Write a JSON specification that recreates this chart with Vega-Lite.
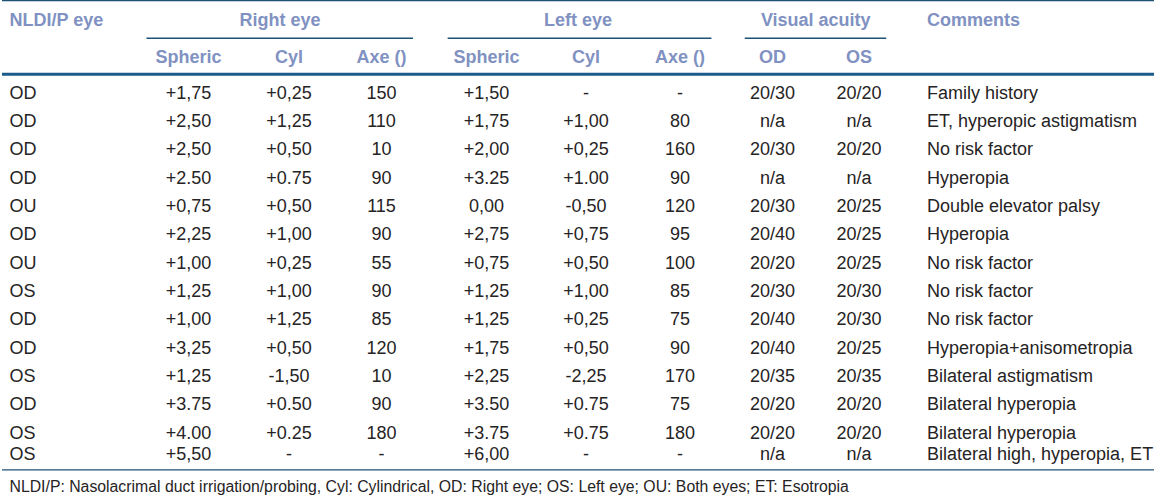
{
  "$schema": "https://vega.github.io/schema/vega-lite/v6.json",
  "width": 1156,
  "height": 499,
  "padding": 0,
  "autosize": {"type": "fit", "contains": "padding"},
  "background": "white",
  "config": {"view": {"stroke": null}},
  "datasets": {
    "table": [
      {"row": 1, "eye": "OD", "rs": "+1,75", "rc": "+0,25", "ra": "150", "ls": "+1,50", "lc": "-", "la": "-", "od": "20/30", "os": "20/20", "com": "Family history"},
      {"row": 2, "eye": "OD", "rs": "+2,50", "rc": "+1,25", "ra": "110", "ls": "+1,75", "lc": "+1,00", "la": "80", "od": "n/a", "os": "n/a", "com": "ET, hyperopic astigmatism"},
      {"row": 3, "eye": "OD", "rs": "+2,50", "rc": "+0,50", "ra": "10", "ls": "+2,00", "lc": "+0,25", "la": "160", "od": "20/30", "os": "20/20", "com": "No risk factor"},
      {"row": 4, "eye": "OD", "rs": "+2.50", "rc": "+0.75", "ra": "90", "ls": "+3.25", "lc": "+1.00", "la": "90", "od": "n/a", "os": "n/a", "com": "Hyperopia"},
      {"row": 5, "eye": "OU", "rs": "+0,75", "rc": "+0,50", "ra": "115", "ls": "0,00", "lc": "-0,50", "la": "120", "od": "20/30", "os": "20/25", "com": "Double elevator palsy"},
      {"row": 6, "eye": "OD", "rs": "+2,25", "rc": "+1,00", "ra": "90", "ls": "+2,75", "lc": "+0,75", "la": "95", "od": "20/40", "os": "20/25", "com": "\u2005Hyperopia"},
      {"row": 7, "eye": "OU", "rs": "+1,00", "rc": "+0,25", "ra": "55", "ls": "+0,75", "lc": "+0,50", "la": "100", "od": "20/20", "os": "20/25", "com": "No risk factor"},
      {"row": 8, "eye": "OS", "rs": "+1,25", "rc": "+1,00", "ra": "90", "ls": "+1,25", "lc": "+1,00", "la": "85", "od": "20/30", "os": "20/30", "com": "No risk factor"},
      {"row": 9, "eye": "OD", "rs": "+1,00", "rc": "+1,25", "ra": "85", "ls": "+1,25", "lc": "+0,25", "la": "75", "od": "20/40", "os": "20/30", "com": "No risk factor"},
      {"row": 10, "eye": "OD", "rs": "+3,25", "rc": "+0,50", "ra": "120", "ls": "+1,75", "lc": "+0,50", "la": "90", "od": "20/40", "os": "20/25", "com": "Hyperopia+anisometropia"},
      {"row": 11, "eye": "OS", "rs": "+1,25", "rc": "-1,50", "ra": "10", "ls": "+2,25", "lc": "-2,25", "la": "170", "od": "20/35", "os": "20/35", "com": "Bilateral astigmatism"},
      {"row": 12, "eye": "OD", "rs": "+3.75", "rc": "+0.50", "ra": "90", "ls": "+3.50", "lc": "+0.75", "la": "75", "od": "20/20", "os": "20/20", "com": "Bilateral hyperopia"},
      {"row": 13, "eye": "OS", "rs": "+4.00", "rc": "+0.25", "ra": "180", "ls": "+3.75", "lc": "+0.75", "la": "180", "od": "20/20", "os": "20/20", "com": "Bilateral hyperopia"},
      {"row": 14, "eye": "OS", "rs": "+5,50", "rc": "-", "ra": "-", "ls": "+6,00", "lc": "-", "la": "-", "od": "n/a", "os": "n/a", "com": "Bilateral high, hyperopia, ET"}
    ],
    "columns": [
      {"key": "eye", "col": 0, "align": "left", "head1": "NLDI/P eye", "head2": ""},
      {"key": "rs", "col": 1, "align": "center", "head1": "", "head2": "Spheric"},
      {"key": "rc", "col": 2, "align": "center", "head1": "", "head2": "Cyl"},
      {"key": "ra", "col": 3, "align": "center", "head1": "", "head2": "Axe ()"},
      {"key": "ls", "col": 4, "align": "center", "head1": "", "head2": "Spheric"},
      {"key": "lc", "col": 5, "align": "center", "head1": "", "head2": "Cyl"},
      {"key": "la", "col": 6, "align": "center", "head1": "", "head2": "Axe ()"},
      {"key": "od", "col": 7, "align": "center", "head1": "", "head2": "OD"},
      {"key": "os", "col": 8, "align": "center", "head1": "", "head2": "OS"},
      {"key": "com", "col": 9, "align": "left", "head1": "Comments", "head2": ""}
    ],
    "groups": [
      {"group": "Right eye", "from": 0.765, "to": 3.3, "mid": 1.91},
      {"group": "Left eye", "from": 3.63, "to": 6.34, "mid": 4.92},
      {"group": "Visual acuity", "from": 6.7, "to": 8.4, "mid": 7.5}
    ],
    "notes": [
      {"row": 15, "col": 0, "text": "NLDI/P: Nasolacrimal duct irrigation/probing, Cyl: Cylindrical, OD: Right eye; OS: Left eye; OU: Both eyes; ET: Esotropia"}
    ]
  },
  "layer": [
    {
      "data": {"values": [{"pos": -3}]},
      "mark": {"type": "rule", "stroke": "#1e5274", "strokeWidth": 1.2},
      "encoding": {
        "y": {"field": "pos", "type": "quantitative", "axis": null,
              "scale": {"domain": [-3, -2, -1, 0, 1, 13, 14, 15], "range": [0.6, 20, 56.5, 74.3, 92.5, 432.5, 454.2, 485.5], "nice": false, "zero": false}}
      }
    },
    {
      "data": {"values": [{"pos": 0}]},
      "mark": {"type": "rule", "stroke": "#1b5b8c", "strokeWidth": 3},
      "encoding": {
        "y": {"field": "pos", "type": "quantitative", "axis": null}
      }
    },
    {
      "data": {"values": [{"pos": 14.5}]},
      "mark": {"type": "rule", "stroke": "#1e5274", "strokeWidth": 1.3},
      "encoding": {
        "y": {"field": "pos", "type": "quantitative", "axis": null}
      }
    },
    {
      "data": {"name": "groups"},
      "mark": {"type": "rule", "stroke": "#1e5274", "strokeWidth": 1.3},
      "encoding": {
        "x": {"field": "from", "type": "quantitative", "axis": null,
              "scale": {"domain": [0, 1, 2, 3, 4, 5, 6, 7, 8, 9], "range": [7.5, 186.5, 287, 379.5, 484.5, 584, 678, 770.5, 857, 925], "nice": false, "zero": false}},
        "x2": {"field": "to"},
        "y": {"datum": -1.5, "type": "quantitative", "axis": null}
      }
    },
    {
      "data": {"name": "groups"},
      "mark": {"type": "text", "font": "Liberation Sans", "fontWeight": "bold", "fontSize": 18, "color": "#8091c2", "align": "center", "baseline": "middle", "dy": 1},
      "encoding": {
        "x": {"field": "mid", "type": "quantitative", "axis": null},
        "y": {"datum": -2, "type": "quantitative", "axis": null},
        "text": {"field": "group"}
      }
    },
    {
      "data": {"name": "columns"},
      "transform": [{"filter": "datum.head1 !== ''"}],
      "mark": {"type": "text", "font": "Liberation Sans", "fontWeight": "bold", "fontSize": 18, "color": "#8091c2", "align": "left", "baseline": "middle", "dy": 1},
      "encoding": {
        "x": {"field": "col", "type": "quantitative", "axis": null},
        "y": {"datum": -2, "type": "quantitative", "axis": null},
        "text": {"field": "head1"}
      }
    },
    {
      "data": {"name": "columns"},
      "transform": [{"filter": "datum.head2 !== ''"}],
      "mark": {"type": "text", "font": "Liberation Sans", "fontWeight": "bold", "fontSize": 18, "color": "#8091c2", "align": "center", "baseline": "middle", "dy": 1},
      "encoding": {
        "x": {"field": "col", "type": "quantitative", "axis": null},
        "y": {"datum": -1, "type": "quantitative", "axis": null},
        "text": {"field": "head2"}
      }
    },
    {
      "data": {"name": "table"},
      "transform": [
        {"fold": ["eye", "rs", "rc", "ra", "ls", "lc", "la", "od", "os", "com"], "as": ["key", "value"]},
        {"lookup": "key", "from": {"data": {"name": "columns"}, "key": "key", "fields": ["col", "align"]}},
        {"filter": "datum.align === 'center'"}
      ],
      "mark": {"type": "text", "font": "Liberation Sans", "fontSize": 18, "color": "#262324", "align": "center", "baseline": "middle", "dy": 1},
      "encoding": {
        "x": {"field": "col", "type": "quantitative", "axis": null},
        "y": {"field": "row", "type": "quantitative", "axis": null},
        "text": {"field": "value"}
      }
    },
    {
      "data": {"name": "table"},
      "transform": [
        {"fold": ["eye", "rs", "rc", "ra", "ls", "lc", "la", "od", "os", "com"], "as": ["key", "value"]},
        {"lookup": "key", "from": {"data": {"name": "columns"}, "key": "key", "fields": ["col", "align"]}},
        {"filter": "datum.align === 'left'"}
      ],
      "mark": {"type": "text", "font": "Liberation Sans", "fontSize": 18, "color": "#262324", "align": "left", "baseline": "middle", "dy": 1},
      "encoding": {
        "x": {"field": "col", "type": "quantitative", "axis": null},
        "y": {"field": "row", "type": "quantitative", "axis": null},
        "text": {"field": "value"}
      }
    },
    {
      "data": {"name": "notes"},
      "mark": {"type": "text", "font": "Liberation Sans", "fontSize": 15.8, "color": "#262324", "align": "left", "baseline": "middle", "dy": 1},
      "encoding": {
        "x": {"field": "col", "type": "quantitative", "axis": null},
        "y": {"field": "row", "type": "quantitative", "axis": null},
        "text": {"field": "text"}
      }
    }
  ]
}
